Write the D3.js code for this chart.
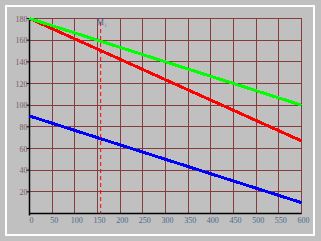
<!DOCTYPE html>
<html lang="en">
<head>
    <meta charset="UTF-8">
    <title>Lines</title>
    <script src="https://d3js.org/d3.v7.min.js"></script>
    <style>
        body { margin: 0; background: #c0c0c0; }
        .grid line { stroke: #843c3c; stroke-width: 1; shape-rendering: crispEdges; }
        .ylab { fill: #7a5a60; font: 8px "Liberation Serif", serif; text-anchor: end; }
        .xlab { fill: #4a6a8a; font: 8px "Liberation Serif", serif; text-anchor: middle; }
        .series { fill: none; stroke-width: 3; shape-rendering: crispEdges; }
    </style>
</head>
<body>
    <script>
        // chart data
        const xs = [0, 600];
        const greenVals = [180, 100];
        const redVals = [180, 67];
        const blueVals = [90, 10];
        const xTicks = [0, 50, 100, 150, 200, 250, 300, 350, 400, 450, 500, 550, 600];
        const yTicks = [20, 40, 60, 80, 100, 120, 140, 160, 180];
        const markerX = 157;
        const markerLabel = "M";
        const markerSub = "i";

        const W = 321, H = 241;
        const svg = d3.select("body").append("svg")
            .attr("width", W)
            .attr("height", H);

        // white frame
        svg.append("rect")
            .attr("x", 6).attr("y", 6)
            .attr("width", 308).attr("height", 229)
            .attr("fill", "none")
            .attr("stroke", "white")
            .attr("stroke-width", 2);

        const x = d3.scaleLinear().domain([0, 600]).range([29.5, 301.5]);
        const y = d3.scaleLinear().domain([0, 180]).range([213.5, 18.5]);

        // grid
        const grid = svg.append("g").attr("class", "grid");
        grid.selectAll(".v").data(xTicks.slice(1)).enter().append("line")
            .attr("x1", d => x(d)).attr("x2", d => x(d))
            .attr("y1", y(0)).attr("y2", y(180));
        grid.selectAll(".h").data(yTicks).enter().append("line")
            .attr("x1", x(0)).attr("x2", x(600))
            .attr("y1", d => y(d)).attr("y2", d => y(d));

        // axes
        svg.append("line")
            .attr("x1", x(0)).attr("x2", x(0))
            .attr("y1", y(180)).attr("y2", y(0) + 2)
            .attr("stroke", "black").attr("stroke-width", 1.5);
        svg.append("line")
            .attr("x1", x(0)).attr("x2", x(600))
            .attr("y1", y(0)).attr("y2", y(0))
            .attr("stroke", "black").attr("stroke-width", 1.5);

        // y tick marks and labels
        svg.selectAll(".ytick").data(yTicks).enter().append("line")
            .attr("x1", x(0) - 3).attr("x2", x(0))
            .attr("y1", d => y(d)).attr("y2", d => y(d))
            .attr("stroke", "black");
        svg.selectAll(".ylab").data(yTicks).enter().append("text")
            .attr("class", "ylab")
            .attr("x", x(0) - 2)
            .attr("y", d => y(d) + 3)
            .text(d => d);

        // x labels
        svg.selectAll(".xlab").data(xTicks).enter().append("text")
            .attr("class", "xlab")
            .attr("x", d => x(d) + 2)
            .attr("y", y(0) + 9)
            .text(d => d);

        // series
        const series = [
            {vals: blueVals, color: "#0000ff"},
            {vals: redVals, color: "#ff0000"},
            {vals: greenVals, color: "#00ff00"}
        ];
        const line = d3.line().x((d, i) => x(xs[i])).y(d => y(d));
        svg.selectAll(".series").data(series).enter().append("path")
            .attr("class", "series")
            .attr("stroke", d => d.color)
            .attr("d", d => line(d.vals));

        // dashed marker
        svg.append("line")
            .attr("x1", x(markerX)).attr("x2", x(markerX))
            .attr("y1", 22).attr("y2", y(0))
            .attr("stroke", "#ff0000")
            .attr("stroke-dasharray", "4,3");
        const mt = svg.append("text")
            .attr("x", x(markerX) - 4)
            .attr("y", 25)
            .attr("fill", "#40608a")
            .style("font", "8px 'Liberation Serif', serif");
        mt.append("tspan").text(markerLabel);
        mt.append("tspan").attr("dy", 2).attr("dx", 1).style("font-size", "6px").attr("fill", "#5a8ad0").text(markerSub);
    </script>
</body>
</html>
